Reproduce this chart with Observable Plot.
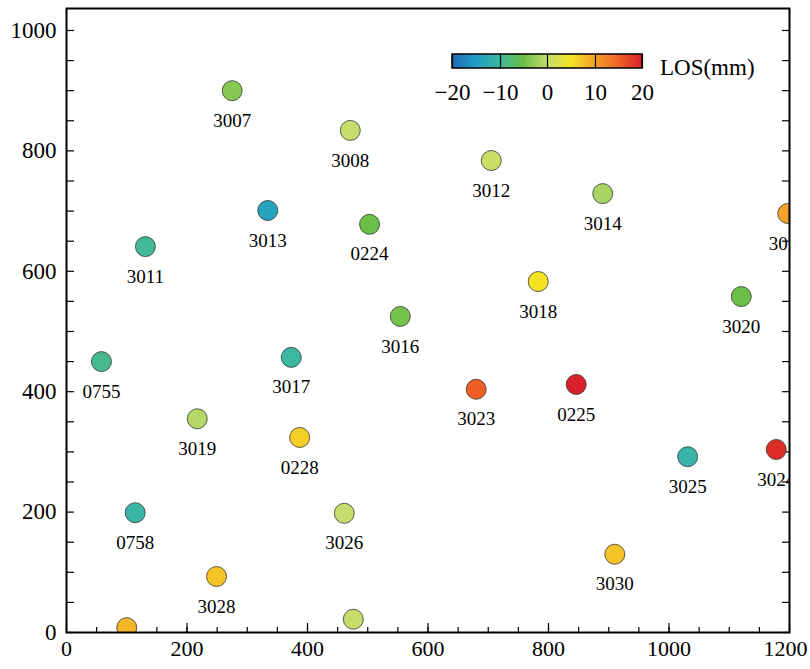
<!DOCTYPE html>
<html><head><meta charset="utf-8">
<script src="https://cdn.jsdelivr.net/npm/d3@7"></script>
<script src="https://cdn.jsdelivr.net/npm/@observablehq/plot@0.6"></script>
<style>
body{margin:0;background:#fff;}
#wrap{position:relative;width:810px;height:669px;font-family:"Liberation Serif","Times New Roman",serif;color:#000;}
#legend{position:absolute;left:432px;top:52px;}
#loslabel{position:absolute;left:660px;top:55px;font-size:23px;line-height:26px;}
</style></head><body><div id="wrap"><div id="legend"></div><div id="loslabel">LOS(mm)</div></div>
<script>
// Station names, positions (m) and LOS displacement (mm)
const names = ["3007","3008","3012","3013","3011","0224","3014","3015","3018","3020","3016","0755","3017","3023","0225","3019","0228","3025","3024","0758","3026","3028","3030","3027","3029"];
const xs    = [275, 471, 705, 334, 131, 503, 890, 1197, 783, 1120, 554, 58, 373, 680, 846, 217, 387, 1031, 1178, 114, 461, 249, 910, 100, 476];
const ys    = [900, 834, 784, 701, 641, 678, 729, 696, 583, 558, 525, 450, 457, 404, 412, 355, 324, 292, 304, 199, 198, 93, 130, 8, 22];
const los   = [-3.5, 0, 0.5, -14, -9.5, -5, -1.5, 10, 5, -5, -4.5, -9, -10, 15.5, 20, -0.8, 6.5, -11, 19, -10.5, 0, 7.5, 7.5, 8.5, 0.2];

const xTicks = [0, 200, 400, 600, 800, 1000, 1200];
const yTicks = [0, 200, 400, 600, 800, 1000];
const xMinor = d3.range(0, 1201, 50);
const yMinor = d3.range(0, 1001, 50);
const legendTicks = [-20, -10, 0, 10, 20];
const colorStops = [-20, -15, -10, -5, 0, 5, 10, 15, 20];
const colorRange = ["#1f6db5", "#219ec6", "#3cb8a0", "#6cbf46", "#c4dd6c", "#f4e424", "#f5a22a", "#f06524", "#d81f2a"];

const data = names.map((n, i) => ({name: n, x: xs[i], y: ys[i], los: los[i]}));
const font = '"Liberation Serif","Times New Roman",serif';
const colorOpts = {type: "linear", domain: colorStops, range: colorRange, interpolate: "rgb", clamp: true};
const fmt = d3.format("d");
const none = () => "";

const chart = Plot.plot({
  width: 810, height: 669,
  marginLeft: 66, marginRight: 21, marginTop: 8, marginBottom: 37,
  x: {domain: [0, 1200], label: null},
  y: {domain: [0, 1036.5], label: null},
  color: colorOpts,
  style: {fontFamily: font, background: "#fff", color: "#000", overflow: "visible"},
  marks: [
    Plot.axisX(xTicks, {tickSize: 0, tickPadding: 8, fontSize: 22, tickFormat: fmt, label: null}),
    Plot.axisY(yTicks, {tickSize: 0, tickPadding: 10, fontSize: 23, tickFormat: fmt, label: null}),
    Plot.axisX(xMinor, {tickSize: 5, dy: -5, strokeWidth: 1.2, tickFormat: none, label: null}),
    Plot.axisX(xTicks, {tickSize: 9, dy: -9, strokeWidth: 1.2, tickFormat: none, label: null}),
    Plot.axisY(yMinor, {tickSize: 8, dx: 8, strokeWidth: 1.2, tickFormat: none, label: null}),
    Plot.axisY(yMinor, {anchor: "right", tickSize: 8, dx: -8, strokeWidth: 1.2, tickFormat: none, label: null}),
    Plot.dot(data, {x: "x", y: "y", r: 10, fill: "los", stroke: "#333", strokeWidth: 0.8, clip: true}),
    Plot.text(data, {x: "x", y: "y", text: "name", dy: 30, fontSize: 19, fill: "#000", clip: true}),
    Plot.frame({stroke: "#000", strokeWidth: 2})
  ]
});
document.getElementById("wrap").prepend(chart);
// keep the last x tick label inside the window, as in the reference
chart.querySelectorAll("text").forEach(t => {
  if (t.textContent === fmt(xTicks[xTicks.length - 1])) t.setAttribute("dx", "-4");
});

const leg = Plot.legend({
  color: colorOpts,
  width: 230, height: 62,
  marginLeft: 20, marginRight: 20, marginTop: 2, marginBottom: 46,
  ticks: legendTicks, tickSize: 0,
  label: null,
  style: {fontFamily: font, fontSize: "23px", color: "#000", background: "transparent", overflow: "visible"}
});
document.getElementById("legend").append(leg);
const svg = leg.tagName.toLowerCase() === "svg" ? leg : leg.querySelector("svg");
const img = svg.querySelector("image");
if (img) {
  const r = document.createElementNS("http://www.w3.org/2000/svg", "rect");
  ["x", "y", "width", "height"].forEach(a => r.setAttribute(a, img.getAttribute(a)));
  r.setAttribute("fill", "none");
  r.setAttribute("stroke", "#000");
  r.setAttribute("stroke-width", "1.5");
  svg.appendChild(r);
}
svg.querySelectorAll(".tick line").forEach(l => { l.setAttribute("stroke", "#000"); l.setAttribute("stroke-width", "1.2"); });
svg.querySelectorAll(".tick text").forEach(t => { t.setAttribute("y", (+t.getAttribute("y") || 0) + 13); });
</script></body></html>
